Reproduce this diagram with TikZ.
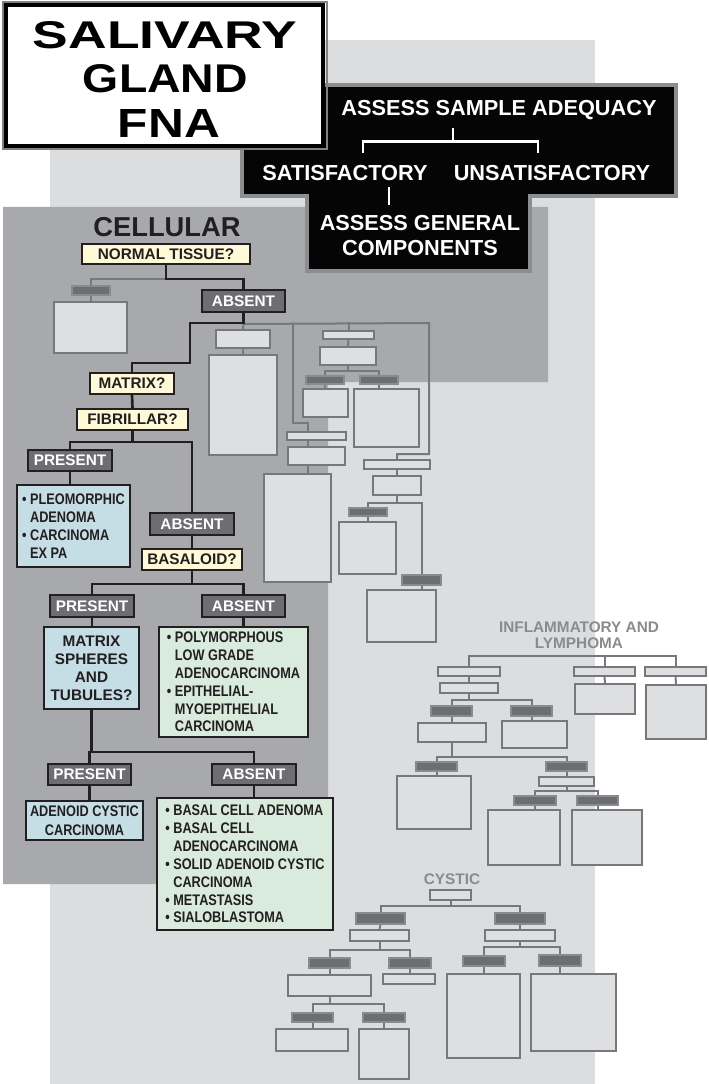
\documentclass[tikz,border=0pt]{standalone}
\usepackage{fontspec}
\setmainfont{Liberation Sans}
\newfontfamily\condf[FakeStretch=0.83]{Liberation Sans}
\usepackage{graphicx}
\definecolor{lightbg}{HTML}{DCDDDF}
\definecolor{darkbg}{HTML}{A7A9AC}
\definecolor{ghfill}{HTML}{DEDFE1}
\definecolor{ghline}{HTML}{77787B}
\definecolor{ghbar}{HTML}{6D6E71}
\definecolor{ghbarl}{HTML}{8A8B8E}
\definecolor{labfill}{HTML}{6D6E71}
\definecolor{qfill}{HTML}{FEF9D7}
\definecolor{bfill}{HTML}{C5DDE4}
\definecolor{gfill}{HTML}{D9EBDD}
\definecolor{txt}{HTML}{231F20}
\definecolor{hdrborder}{HTML}{8C8D90}
\definecolor{hdrblack}{HTML}{050505}
\definecolor{ghtext}{HTML}{8A8B8E}
\pgfdeclarelayer{bg}
\pgfdeclarelayer{lines}
\pgfsetlayers{bg,lines,main}
\newcommand\mybox[6]{\node[#1, minimum width={(#5-#3-2)*0.75pt}, minimum height={(#6-#4-2)*0.75pt}] (#2) at ({(#3+#5)/2},{(#4+#6)/2})}
\newcommand\ind{\hphantom{\textbullet\ }}
\tikzset{
 gbox/.style={draw=ghline, fill=ghfill, line width=1.5pt, inner sep=0pt},
 gbar/.style={draw=ghbarl, fill=ghbar, line width=1.5pt, inner sep=0pt},
 gl/.style={draw=ghline, line width=1.5pt},
 bl/.style={draw=txt, line width=2pt},
 wl/.style={draw=white, line width=2pt},
 qn/.style={draw=txt, fill=qfill, line width=1.5pt, inner sep=0pt, text=txt, font=\bfseries\fontsize{11.5}{13}\selectfont},
 lab/.style={draw=txt, fill=labfill, line width=1.5pt, inner sep=0pt, text=white, font=\bfseries\fontsize{11.5}{13}\selectfont},
 res/.style={draw=txt, line width=1.5pt, inner sep=0pt, text=txt, font=\condf\bfseries\fontsize{11.5}{13.4}\selectfont},
 hdr/.style={inner sep=0pt, text=white, font=\bfseries\fontsize{16.3}{18.75}\selectfont},
 ghl/.style={inner sep=0pt, text=ghtext, font=\bfseries\fontsize{11.5}{12}\selectfont},
}
\begin{document}
\begin{tikzpicture}[x=0.75pt,y=-0.75pt]
\useasboundingbox (0,0) rectangle (709,1084);
\begin{pgfonlayer}{bg}
\fill[lightbg] (50,40) rectangle (595,1084);
\fill[darkbg] (3,207) -- (548,207) -- (548,382) -- (328,382) -- (328,884) -- (3,884) -- cycle;
\draw[hdrborder, line width=3pt, fill=hdrblack, line join=miter] (242,85) -- (676,85) -- (676,196) -- (530,196) -- (530,271) -- (307,271) -- (307,196) -- (242,196) -- cycle;
\draw[gray, line width=1pt] (3,2) rectangle (327,149);
\draw[black, line width=3pt, fill=white] (6,5) rectangle (323,146);
\end{pgfonlayer}

% title
\node[inner sep=0pt] (t1) at (165,35) {\resizebox{198pt}{20.25pt}{\bfseries SALIVARY}};
\node[inner sep=0pt] (t2) at (165.5,79) {\resizebox{123.75pt}{21pt}{\bfseries GLAND}};
\node[inner sep=0pt] (t3) at (169,124) {\resizebox{76.5pt}{21pt}{\bfseries FNA}};

% header
\node[hdr] (ASA) at (499,110) {ASSESS SAMPLE ADEQUACY};
\node[hdr] (SAT) at (345,173) {SATISFACTORY};
\node[hdr] (UNS) at (552,173) {UNSATISFACTORY};
\node[hdr, align=center] (AGC) at (420,236) {ASSESS GENERAL\\COMPONENTS};
\draw[wl] (453,128) -- (453,141.5);
\draw[wl] (363,153) -- (363,141.5) -- (538,141.5) -- (538,153);
\draw[wl] (389,187) -- (389,205);

\node[inner sep=0pt, text=txt, font=\bfseries\fontsize{20.5}{24}\selectfont] (cel) at (167,227.5) {CELLULAR};
\node[ghl, align=center] (inf) at (579,635) {INFLAMMATORY AND\\LYMPHOMA};
\node[ghl] (cys) at (452,879) {CYSTIC};

% ghost boxes cellular
\mybox{gbar}{gb0}{71}{285}{111}{296} {};
\mybox{gbox}{gx0}{53}{301}{128}{354} {};
\mybox{gbox}{gA}{215}{329}{271}{349} {};
\mybox{gbox}{gB}{208}{354}{278}{456} {};
\mybox{gbox}{gC}{286}{431}{347}{441} {};
\mybox{gbox}{gD}{287}{446}{346}{466} {};
\mybox{gbox}{gE}{263}{473}{332}{583} {};
\mybox{gbox}{gF}{322}{330}{375}{340} {};
\mybox{gbox}{gG}{319}{346}{377}{366} {};
\mybox{gbar}{gH1}{305}{375}{345}{385} {};
\mybox{gbar}{gH2}{359}{375}{399}{385} {};
\mybox{gbox}{gI1}{302}{388}{349}{418} {};
\mybox{gbox}{gI2}{353}{388}{420}{448} {};
\mybox{gbox}{gJ}{363}{459}{431}{470} {};
\mybox{gbox}{gK}{372}{475}{422}{496} {};
\mybox{gbar}{gL1}{348}{507}{388}{517} {};
\mybox{gbox}{gM1}{338}{521}{397}{575} {};
\mybox{gbar}{gL2}{401}{574}{442}{586} {};
\mybox{gbox}{gM2}{366}{589}{437}{643} {};
\coordinate (cx308) at (308,0);

% ghost inflammatory
\mybox{gbox}{iN1}{437}{666}{501}{677} {};
\mybox{gbox}{iN2}{439}{682}{499}{694} {};
\mybox{gbar}{iO1}{430}{705}{473}{717} {};
\mybox{gbar}{iO2}{510}{705}{553}{717} {};
\mybox{gbox}{iP1}{417}{722}{487}{743} {};
\mybox{gbox}{iP2}{501}{720}{568}{749} {};
\mybox{gbar}{iQ1}{415}{761}{458}{772} {};
\mybox{gbar}{iQ2}{545}{761}{588}{772} {};
\mybox{gbox}{iR1}{396}{775}{472}{830} {};
\mybox{gbox}{iS}{538}{776}{595}{787} {};
\mybox{gbar}{iT1}{513}{795}{557}{806} {};
\mybox{gbar}{iT2}{576}{795}{619}{806} {};
\mybox{gbox}{iU1}{487}{809}{561}{866} {};
\mybox{gbox}{iU2}{571}{809}{643}{866} {};
\mybox{gbox}{iV1}{573}{666}{636}{677} {};
\mybox{gbox}{iW1}{574}{683}{636}{715} {};
\mybox{gbox}{iV2}{644}{666}{707}{677} {};
\mybox{gbox}{iW2}{645}{684}{707}{740} {};

% ghost cystic
\mybox{gbox}{cX}{429}{889}{472}{901} {};
\mybox{gbar}{cY1}{355}{912}{406}{925} {};
\mybox{gbar}{cY2}{494}{912}{546}{925} {};
\mybox{gbox}{cZ1}{349}{929}{410}{942} {};
\mybox{gbox}{cZ2}{484}{929}{556}{942} {};
\mybox{gbar}{cAA1}{308}{957}{351}{969} {};
\mybox{gbar}{cAA2}{388}{957}{432}{969} {};
\mybox{gbox}{cBB1}{287}{974}{372}{997} {};
\mybox{gbox}{cBB2}{382}{973}{436}{985} {};
\mybox{gbar}{cCC1}{291}{1012}{334}{1023} {};
\mybox{gbar}{cCC2}{362}{1012}{406}{1023} {};
\mybox{gbox}{cDD1}{275}{1028}{349}{1052} {};
\mybox{gbox}{cDD2}{358}{1028}{410}{1080} {};
\mybox{gbar}{cEE1}{462}{955}{506}{967} {};
\mybox{gbar}{cEE2}{538}{954}{582}{967} {};
\mybox{gbox}{cFF1}{446}{973}{521}{1059} {};
\mybox{gbox}{cFF2}{530}{973}{617}{1052} {};

% main tree
\mybox{qn}{NT}{81}{243}{251}{265} {NORMAL TISSUE?};
\mybox{lab}{A1}{201}{289}{286}{313} {ABSENT};
\mybox{qn}{MX}{89}{372}{175}{395} {MATRIX?};
\mybox{qn}{FB}{76}{408}{189}{431} {FIBRILLAR?};
\mybox{lab}{P1}{27}{449}{113}{472} {PRESENT};
\mybox{res, fill=bfill, align=left}{BL1}{16}{484}{131}{568} {\textbullet\ PLEOMORPHIC\\\ind ADENOMA\\\textbullet\ CARCINOMA\\\ind EX PA};
\mybox{lab}{A2}{149}{512}{235}{536} {ABSENT};
\mybox{qn}{BAS}{141}{548}{243}{571} {BASALOID?};
\mybox{lab}{P2}{49}{594}{135}{618} {PRESENT};
\mybox{lab}{A3}{201}{594}{286}{618} {ABSENT};
\mybox{res, fill=bfill, align=center, font=\bfseries\fontsize{11.5}{13.5}\selectfont}{BL2}{43}{626}{140}{710} {MATRIX\\SPHERES\\AND\\TUBULES?};
\mybox{res, fill=gfill, align=left}{G1}{158}{626}{309}{738} {\textbullet\ POLYMORPHOUS\\\ind LOW GRADE\\\ind ADENOCARCINOMA\\\textbullet\ EPITHELIAL-\\\ind MYOEPITHELIAL\\\ind CARCINOMA};
\mybox{lab}{P3}{47}{763}{132}{786} {PRESENT};
\mybox{lab}{A4}{211}{763}{297}{786} {ABSENT};
\mybox{res, fill=bfill, align=center, font=\condf\bfseries\fontsize{11.5}{14.2}\selectfont}{BL3}{25}{800}{144}{841} {ADENOID CYSTIC\\CARCINOMA};
\mybox{res, fill=gfill, align=left}{G2}{156}{797}{334}{931} {\textbullet\ BASAL CELL ADENOMA\\\textbullet\ BASAL CELL\\\ind ADENOCARCINOMA\\\textbullet\ SOLID ADENOID CYSTIC\\\ind CARCINOMA\\\textbullet\ METASTASIS\\\textbullet\ SIALOBLASTOMA};

\begin{pgfonlayer}{lines}
% ghost lines cellular
\draw[gl] (NT.south) ++(0,14) -| (gb0.north);
\draw[gl] (gb0.south) -- (gx0.north -| gb0.south);
\draw[gl] (A1.south) ++(0,11) -- (gA.north);
\draw[gl] (A1.south) ++(0,11) -- (429,323) |- (gJ.north |- 0,454) -- (gJ.north);
\draw[gl] (gA.south) -- (gB.north);
\draw[gl] (293,323) |- (308,423) -- (gC.north -| cx308);
\draw[gl] (gC.south -| cx308) -- (gD.north -| cx308);
\draw[gl] (gD.south -| cx308) -- (gE.north -| cx308);
\draw[gl] (gF.north) -- ++(0,-8);
\draw[gl] (gF.south) -- (gG.north);
\draw[gl] (gG.south) -- ++(0,5) -| (gH1.north);
\draw[gl] (gG.south) ++(0,5) -| (gH2.north);
\draw[gl] (gH1.south) -- (gI1.north -| gH1.south);
\draw[gl] (gH2.south) -- (gI2.north -| gH2.south);
\draw[gl] (gJ.south) -- (gK.north);
\draw[gl] (gK.south) -- ++(0,7) -| (gL1.north);
\draw[gl] (gK.south) ++(0,7) -| (gL2.north);
\draw[gl] (gL1.south) -- (gM1.north -| gL1.south);
\draw[gl] (gL2.south) -- (gM2.north -| gL2.south);
% ghost inflammatory
\draw[gl] (iN1.north) -- ++(0,-10) -| (iV2.north);
\draw[gl] (iV1.north) -- ++(0,-10);
\draw[gl] (iN1.south) -- (iN2.north);
\draw[gl] (iV1.south) -- (iW1.north);
\draw[gl] (iV2.south) -- (iW2.north);
\draw[gl] (iN2.south) -- ++(0,6) -| (iO1.north);
\draw[gl] (iN2.south) ++(0,6) -| (iO2.north);
\draw[gl] (iO1.south) -- (iP1.north -| iO1.south);
\draw[gl] (iO2.south) -- (iP2.north -| iO2.south);
\draw[gl] (iP1.south) -- ++(0,14) -| (iQ1.north);
\draw[gl] (iP1.south) ++(0,14) -| (iQ2.north);
\draw[gl] (iQ1.south) -- (iR1.north -| iQ1.south);
\draw[gl] (iQ2.south) -- (iS.north);
\draw[gl] (iS.south) -- ++(0,4) -| (iT1.north);
\draw[gl] (iS.south) ++(0,4) -| (iT2.north);
\draw[gl] (iT1.south) -- (iU1.north -| iT1.south);
\draw[gl] (iT2.south) -- (iU2.north -| iT2.south);
% ghost cystic
\draw[gl] (cX.south) -- ++(0,5) -| (cY1.north);
\draw[gl] (cX.south) ++(0,5) -| (cY2.north);
\draw[gl] (cY1.south) -- (cZ1.north);
\draw[gl] (cY2.south) -- (cZ2.north);
\draw[gl] (cZ1.south) -- ++(0,8) -| (cAA1.north);
\draw[gl] (cZ1.south) ++(0,8) -| (cAA2.north);
\draw[gl] (cAA1.south) -- (cBB1.north -| cAA1.south);
\draw[gl] (cAA2.south) -- (cBB2.north -| cAA2.south);
\draw[gl] (cBB1.south) -- ++(0,7) -| (cCC1.north);
\draw[gl] (cBB1.south) ++(0,7) -| (cCC2.north);
\draw[gl] (cCC1.south) -- (cDD1.north -| cCC1.south);
\draw[gl] (cCC2.south) -- (cDD2.north -| cCC2.south);
\draw[gl] (cZ2.south) -- ++(0,5) -| (cEE1.north);
\draw[gl] (cZ2.south) ++(0,5) -| (cEE2.north);
\draw[gl] (cEE1.south) -- (cFF1.north -| cEE1.south);
\draw[gl] (cEE2.south) -- (cFF2.north -| cEE2.south);
% main connectors
\draw[bl] (NT.south) -- ++(0,14) -| (A1.north);
\draw[bl] (A1.south) |- (190,323) |- (132,363) -- (MX.north);
\draw[bl] (MX.south) -- (FB.north);
\draw[bl] (FB.south) -- ++(0,11) -| (P1.north);
\draw[bl] (FB.south) ++(0,11) -| (A2.north);
\draw[bl] (P1.south) -- (BL1.north -| P1.south);
\draw[bl] (A2.south) -- (BAS.north);
\draw[bl] (BAS.south) -- ++(0,13) -| (P2.north);
\draw[bl] (BAS.south) ++(0,13) -| (A3.north);
\draw[bl] (P2.south) -- (BL2.north -| P2.south);
\draw[bl] (A3.south) -- (G1.north -| A3.south);
\draw[bl] (BL2.south) -- ++(0,42) -| (P3.north);
\draw[bl] (BL2.south) ++(0,42) -| (A4.north);
\draw[bl] (P3.south) -- (BL3.north -| P3.south);
\draw[bl] (A4.south) -- (G2.north -| A4.south);
\end{pgfonlayer}
\end{tikzpicture}
\end{document}
